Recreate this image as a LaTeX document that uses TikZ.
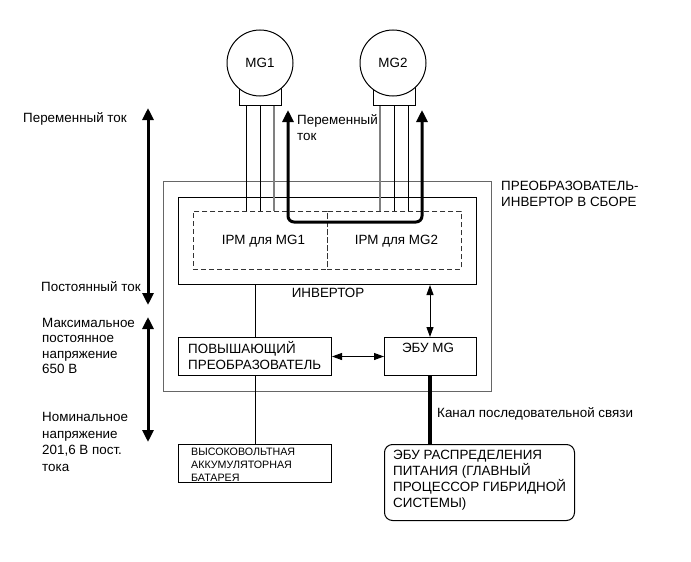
\documentclass[tikz,border=0pt]{standalone}
\usepackage{fontspec}
\setmainfont{Liberation Sans}
\usetikzlibrary{arrows.meta}
\begin{document}
\begin{tikzpicture}[x=1pt,y=-1pt,font=\fontsize{13.4}{16}\selectfont,
		box/.style={draw,line width=1pt,rectangle,anchor=north west,inner sep=0pt},
		mg/.style={draw,fill=white,line width=1pt,circle,minimum size=66pt,inner sep=0pt},
		lbl/.style={anchor=west,align=left,inner sep=0pt},
		wire/.style={line width=1pt},
		graywire/.style={line width=1.1pt,black!50},
		ipm/.style={box,line width=.8pt,black!80,dash pattern=on 5pt off 3pt,minimum width=134pt,minimum height=58pt},
		linkarrow/.style={line width=1pt,{Triangle[length=10pt,width=7pt]}-{Triangle[length=10pt,width=7pt]}},
		rangearrow/.style={line width=3pt,{Triangle[length=12pt,width=11pt]}-{Triangle[length=12pt,width=11pt]}},
		acpath/.style={rangearrow,rounded corners=6pt}]
	\useasboundingbox (0,0) rectangle (691,562);
	% outer assembly and inverter
	\node[box,draw=black!60,line width=1.2pt,minimum width=328pt,minimum height=210pt] (assy) at (163,181) {};
	\node[box,minimum width=298pt,minimum height=87pt] (inv) at (178,197) {};
	\node[ipm] (ipmone) at (193,211) {};
	\node[ipm] (ipmtwo) at (327,211) {};
	\node[xshift=3pt,yshift=-1pt] (ipmonetext) at (ipmone.center) {IPM для MG1};
	\node[xshift=2pt,yshift=-1pt] (ipmtwotext) at (ipmtwo.center) {IPM для MG2};
	% motors
	\node[box,minimum width=42pt,minimum height=20pt] (baseone) at (239,85) {};
	\node[box,minimum width=42pt,minimum height=20pt] (basetwo) at (373,85) {};
	\node[mg] (mgone) at (260,63) {MG1};
	\node[mg] (mgtwo) at (393,63) {MG2};
	% phase wires
	\foreach \x/\s in {246/wire,260/wire,274/graywire}
		\draw[\s] (baseone.south -| \x,0) -- (ipmone.north -| \x,0);
	\foreach \x/\s in {380/graywire,394/wire,408/wire}
		\draw[\s] (basetwo.south -| \x,0) -- (ipmtwo.north -| \x,0);
	% boxes below
	\node[box,minimum width=153pt,minimum height=38pt] (boost) at (178,337) {};
	\node[lbl,anchor=north west] (boosttext) at (188,341) {ПОВЫШАЮЩИЙ\\ПРЕОБРАЗОВАТЕЛЬ};
	\node[box,minimum width=92pt,minimum height=38pt] (ecu) at (384,337) {};
	\node[inner sep=0pt] (ecutext) at (428,348) {ЭБУ MG};
	\node[box,minimum width=153pt,minimum height=38pt] (batt) at (178,444) {};
	\node[lbl,anchor=north west,font=\fontsize{10.7}{13}\selectfont] (batttext) at (191,448) {ВЫСОКОВОЛЬТНАЯ\\АККУМУЛЯТОРНАЯ\\БАТАРЕЯ};
	\node[box,rounded corners=8pt,minimum width=190pt,minimum height=76pt] (powerecu) at (384,444) {};
	\node[lbl,anchor=north west] (powerecutext) at (393,450) {ЭБУ РАСПРЕДЕЛЕНИЯ\\ПИТАНИЯ (ГЛАВНЫЙ\\ПРОЦЕССОР ГИБРИДНОЙ\\СИСТЕМЫ)};
	% connectors
	\coordinate (busx) at (255,0);
	\coordinate (linkx) at (430,0);
	\draw[wire] (inv.south -| busx) -- (boost.north -| busx);
	\draw[wire] (boost.south -| busx) -- (batt.north -| busx);
	\draw[linkarrow] (inv.south -| linkx) -- (ecu.north -| linkx);
	\draw[linkarrow] (boost.east) -- (ecu.west);
	\draw[line width=3.5pt] (ecu.south -| linkx) -- (powerecu.north -| linkx);
	% current paths
	\coordinate (tipone) at (288,110);
	\coordinate (tiptwo) at (422,110);
	\coordinate (rail) at (0,222);
	\draw[acpath] (tipone) -- (tipone |- rail) -- (tiptwo |- rail) -- (tiptwo);
	\coordinate (acA) at (148,108);
	\coordinate (acB) at (148,305);
	\coordinate (dcA) at (148,317);
	\coordinate (dcB) at (148,442);
	\draw[rangearrow] (acA) -- (acB);
	\draw[rangearrow] (dcA) -- (dcB);
	% texts
	\node[lbl] (actext) at (23,119) {Переменный ток};
	\node[lbl] (dctext) at (41,287) {Постоянный ток};
	\node[lbl,anchor=north west,font=\fontsize{13.4}{15.4}\selectfont] (maxtext) at (42,318) {Максимальное\\постоянное\\напряжение\\650 В};
	\node[lbl,anchor=north west,font=\fontsize{13.4}{16.6}\selectfont] (nomtext) at (42,412) {Номинальное\\напряжение\\201,6 В пост.\\тока};
	\node[lbl,anchor=north west,font=\fontsize{13.4}{16.6}\selectfont] (actwo) at (297,114) {Переменный\\ток};
	\node[lbl,anchor=north west] (assytext) at (501,181) {ПРЕОБРАЗОВАТЕЛЬ-\\ИНВЕРТОР В СБОРЕ};
	\node[inner sep=0pt] (invtext) at (328,293) {ИНВЕРТОР};
	\node[lbl] (cantext) at (437,414) {Канал последовательной связи};
\end{tikzpicture}
\end{document}
